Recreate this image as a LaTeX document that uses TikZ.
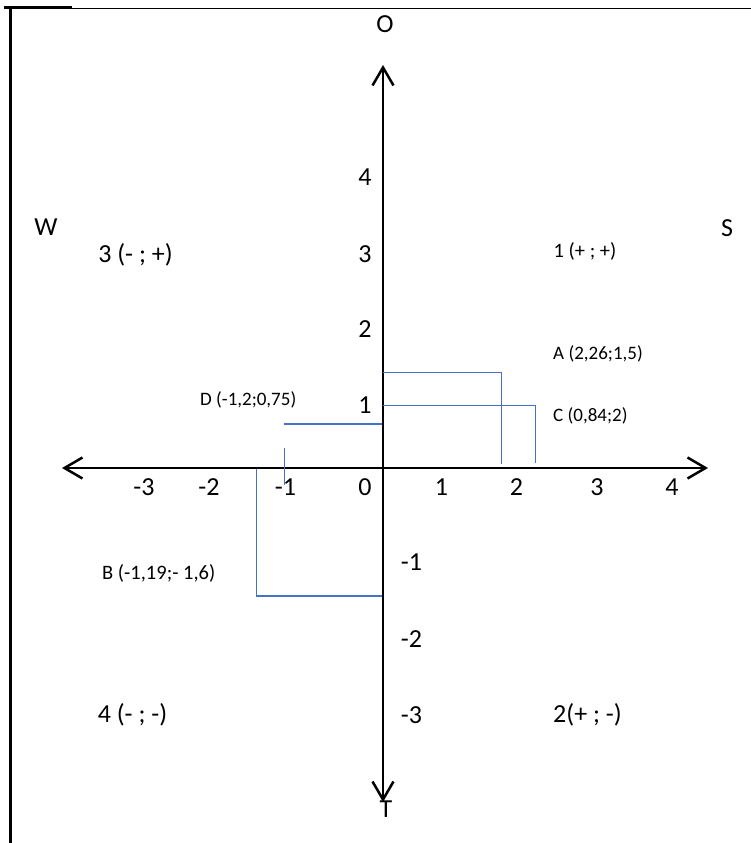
\documentclass[tikz,border=0pt]{standalone}
\usepackage{fontspec}
\setmainfont{Carlito}
\usetikzlibrary{arrows.meta}
\definecolor{guide}{RGB}{68,114,196}
\tikzset{
  big/.style={font=\fontsize{26}{30}\selectfont, inner sep=0pt, anchor=base},
  small/.style={font=\fontsize{19}{23}\selectfont, inner sep=0pt, anchor=base west},
  mid/.style={font=\fontsize{20.5}{24}\selectfont, inner sep=0pt, anchor=base},
  axisline/.style={line width=2.5pt, {Straight Barb[length=18pt,width=21pt]}-{Straight Barb[length=18pt,width=21pt]}},
  guideline/.style={draw=guide, line width=1.3pt},
  frameline/.style={line width=2.2pt},
}
\begin{document}
\begin{tikzpicture}[x=1pt,y=-1pt]
\useasboundingbox (0,0) rectangle (751,843);
% frame
\coordinate (fa) at (10.5,8.5);
\coordinate (fb) at (751,8.5);
\coordinate (fc) at (10.5,843);
\coordinate (fd) at (4,7.5);
\coordinate (fe) at (72,7.5);
\draw[frameline, line width=1.8pt] (fa) -- (fb);
\draw[frameline, line width=3pt] (fd) -- (fe);
\draw[frameline, line width=2.8pt] (10.5,7) -- (fc);
% T label (under the arrow)
\node[big] (tT) at (386,817) {T};
% axes
\coordinate (ytop) at (383,65);
\coordinate (ybot) at (383,802);
\coordinate (xleft) at (62,468);
\coordinate (xright) at (708,468);
\draw[axisline] (xleft) -- (xright);
\draw[axisline] (ybot) -- (ytop);
% direction labels
\node[big] (tO) at (385,33) {O};
\node[big] (tW) at (46,235) {W};
\node[big] (tS) at (727,236) {S};
% quadrant labels
\node[big] (q3) at (135.5,262) {3 (- ; +)};
\node[mid] (q1) at (585,257) {1 (+ ; +)};
\node[big] (q4) at (132.5,722) {4 (- ; -)};
\node[big] (q2) at (587.5,722) {2(+ ; -)};
% y ticks
\node[big] (y4) at (365,185) {4};
\node[big] (y3) at (365,262) {3};
\node[big] (y2) at (365,337) {2};
\node[big] (y1) at (365,413) {1};
\node[big] (ym1) at (411.5,570) {-1};
\node[big] (ym2) at (411.5,647) {-2};
\node[big] (ym3) at (411.5,723) {-3};
% x ticks
\node[big] (xm3) at (144,495) {-3};
\node[big] (xm2) at (209,495) {-2};
\node[big] (xm1) at (285.5,495) {-1};
\node[big] (x0) at (365,495) {0};
\node[big] (x1) at (441.5,495) {1};
\node[big] (x2) at (516.5,495) {2};
\node[big] (x3) at (597,495) {3};
\node[big] (x4) at (672,495) {4};
% point labels
\node[small] (lA) at (553,359) {A (2,26;1,5)};
\node[small] (lC) at (553,421.5) {C (0,84;2)};
\node[small] (lD) at (200,405) {D (-1,2;0,75)};
\node[small, font=\fontsize{20.5}{24}\selectfont] (lB) at (102,579) {B (-1,19;- 1,6)};
% guide lines
\coordinate (Ay) at (383,372.3);
\coordinate (A) at (501.7,372.3);
\coordinate (Ax) at (501.7,464);
\draw[guideline] (Ay) -- (A) -- (Ax);
\coordinate (Cy) at (383,405.7);
\coordinate (C) at (535.7,405.7);
\coordinate (Cx) at (535.7,462.7);
\draw[guideline] (Cy) -- (C) -- (Cx);
\coordinate (Dy) at (381.7,424);
\coordinate (D) at (284.3,424);
\draw[guideline] (Dy) -- (D);
\coordinate (Dv1) at (284.3,447.7);
\coordinate (Dv2) at (284.3,485);
\draw[guideline] (Dv1) -- (Dv2);
\coordinate (Bx) at (256.7,469.3);
\coordinate (B) at (256.7,596);
\coordinate (By) at (382.3,596);
\draw[guideline] (Bx) -- (B) -- (By);
\end{tikzpicture}
\end{document}
